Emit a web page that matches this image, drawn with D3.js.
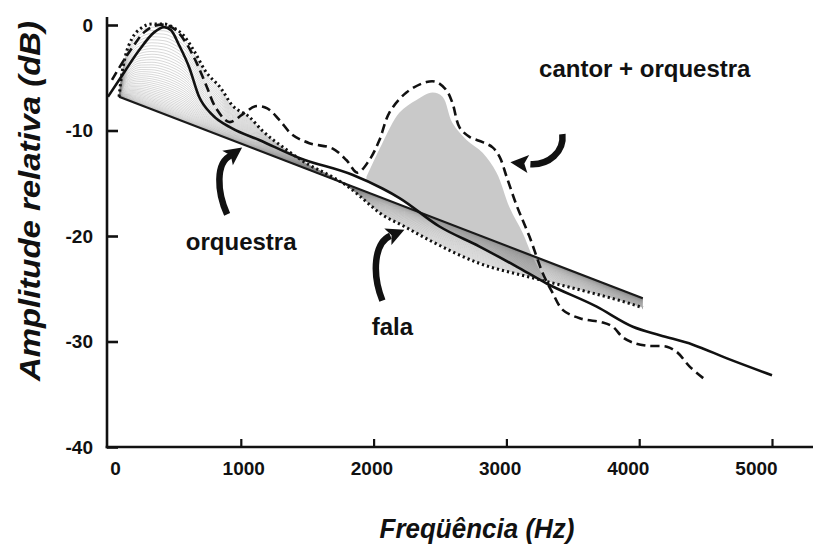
<!DOCTYPE html>
<html>
<head>
<meta charset="utf-8">
<script src="https://cdn.jsdelivr.net/npm/d3@7"></script>
<style>
  html, body { margin: 0; padding: 0; background: #fff; }
  svg { display: block; }
  text { font-family: "Liberation Sans", Arial, sans-serif; fill: #111; }
</style>
</head>
<body>
<svg id="chart" width="813" height="557"></svg>
<script>
// Axis ticks
const xTicks = [0, 1000, 2000, 3000, 4000, 5000];
const yTicks = [0, -10, -20, -30, -40];

// Orchestra spectrum (solid)
const orquestraHz = [0, 121, 234, 347, 422, 475, 535, 611, 686, 784, 935, 1139, 1440, 1840, 2066, 2195, 2496, 2798, 3077, 3303, 3680, 3952, 4155, 4404, 4661, 5000];
const orquestraDb = [-6.8, -4.5, -2.4, -0.7, -0.2, -0.5, -1.9, -4.0, -6.8, -8.5, -9.8, -10.9, -12.6, -14.2, -15.5, -16.4, -19.1, -21.0, -22.9, -24.5, -26.7, -28.6, -29.4, -30.3, -31.6, -33.2];

// Speech spectrum (dotted)
const falaHz = [83, 100, 130, 180, 250, 330, 420, 500, 570, 650, 730, 850, 935, 1063, 1161, 1342, 1493, 1689, 1817, 1931, 2044, 2232, 2421, 2798, 3175, 3552, 3929, 4027];
const falaDb = [-6.8, -5.0, -3.0, -1.3, -0.3, 0.1, 0.1, -0.3, -1.0, -2.5, -4.3, -6.0, -7.6, -8.7, -10.0, -11.8, -13.1, -14.4, -15.4, -16.6, -17.8, -19.1, -20.4, -22.6, -23.9, -25.1, -26.4, -26.8];

// Long-term slope of the orchestral band (straight line)
const slopeHz = [83, 4027];
const slopeDb = [-6.8, -25.9];

// Singer + orchestra (dashed)
const cantorHz = [30, 121, 196, 271, 347, 437, 513, 588, 664, 739, 814, 913, 1011, 1109, 1199, 1290, 1388, 1516, 1689, 1795, 1878, 1968, 2044, 2119, 2247, 2398, 2474, 2549, 2594, 2647, 2722, 2821, 2896, 2949, 3002, 3077, 3175, 3273, 3348, 3424, 3552, 3725, 3801, 3876, 3952, 4057, 4208, 4284, 4382, 4495];
const cantorDb = [-5.2, -3.3, -1.9, -0.7, -0.1, 0, -0.5, -1.7, -3.5, -5.7, -7.9, -9.2, -8.5, -7.7, -7.9, -9.0, -10.4, -11.2, -11.7, -12.8, -14.0, -12.8, -10.9, -8.3, -6.4, -5.4, -5.4, -6.2, -7.4, -9.7, -10.6, -11.1, -11.6, -12.5, -14.4, -17.1, -20.1, -23.5, -25.4, -27.0, -27.8, -28.2, -28.6, -29.6, -30.1, -30.4, -30.5, -31.0, -32.4, -33.6];

// Singer's formant region (grey area, upper edge)
const formanteHz = [1946, 2066, 2195, 2323, 2443, 2519, 2594, 2700, 2821, 2926, 3024, 3122, 3198, 3273];
const formanteDb = [-14.4, -11.2, -8.3, -7.1, -6.4, -6.8, -9.3, -10.9, -12.1, -14.0, -17.3, -19.7, -22.0, -23.7];

// Annotations: label text and anchor (Hz, dB)
const labelText = ["orquestra", "fala", "cantor + orquestra"];
const labelHz = [1003, 2142, 4042];
const labelDb = [-20.6, -28.6, -4.2];
// Arrow tips (Hz, dB)
const arrowTipHz = [1010, 2232, 3030];
const arrowTipDb = [-11.6, -19.4, -13.0];

const svg = d3.select("#chart");
const W = 813, H = 557;

const x = d3.scaleLinear().domain([0, 5000]).range([108, 772]);
const y = d3.scaleLinear().domain([-40, 0]).range([447, 25]);
// tick-label placement along the frequency axis
const xLabel = d3.scaleLinear().domain([0, 5000]).range([115, 756]);

const pts = (hz, db) => hz.map((f, i) => [f, db[i]]);
const line = d3.line().x(d => x(d[0])).y(d => y(d[1]));

// ---- grey formant area (between singer curve and orchestra curve)
const orqInterp = d3.scaleLinear().domain(orquestraHz).range(orquestraDb);
const upper = pts(formanteHz, formanteDb);
const lower = formanteHz.slice().reverse().map(f => [f, orqInterp(f)]);
svg.append("path")
  .attr("d", d3.line().x(d => x(d[0])).y(d => y(d[1])).curve(d3.curveCatmullRom)(upper) +
        "L" + lower.map(d => x(d[0]) + "," + y(d[1])).join("L") + "Z")
  .attr("fill", "#c9c9c9");

// ---- fan of blend lines from the straight slope to the speech curve
const slope = d3.scaleLinear().domain(slopeHz).range(slopeDb);
const N = 44;
const fan = svg.append("g");
for (let k = 1; k < N; k++) {
  const t = Math.pow(k / N, 1.7);
  const blend = falaHz.map((f, i) => [f, slope(f) * (1 - t) + falaDb[i] * t]);
  fan.append("path")
    .attr("d", line.curve(d3.curveMonotoneX)(blend))
    .attr("fill", "none")
    .attr("stroke", "#7a7a7a")
    .attr("stroke-opacity", 0.42)
    .attr("stroke-width", 0.7);
}

// straight slope line
svg.append("path")
  .attr("d", line.curve(d3.curveLinear)(pts(slopeHz, slopeDb)))
  .attr("fill", "none").attr("stroke", "#1a1a1a").attr("stroke-width", 2.2);

// speech (dotted)
svg.append("path")
  .attr("d", line.curve(d3.curveMonotoneX)(pts(falaHz, falaDb)))
  .attr("fill", "none").attr("stroke", "#111").attr("stroke-width", 3)
  .attr("stroke-dasharray", "2.2,3");

// orchestra (solid)
svg.append("path")
  .attr("d", line.curve(d3.curveMonotoneX)(pts(orquestraHz, orquestraDb)))
  .attr("fill", "none").attr("stroke", "#111").attr("stroke-width", 2.6);

// singer + orchestra (dashed)
svg.append("path")
  .attr("d", line.curve(d3.curveCatmullRom)(pts(cantorHz, cantorDb)))
  .attr("fill", "none").attr("stroke", "#111").attr("stroke-width", 2.6)
  .attr("stroke-dasharray", "9,5");

// ---- axes
const gy = svg.append("g").attr("transform", `translate(${x(0) - 1},0)`)
  .call(d3.axisLeft(y).tickValues(yTicks).tickSizeInner(-11).tickSizeOuter(0).tickPadding(14)
    .tickFormat(d => String(d)));
gy.select(".domain").remove();
gy.selectAll(".tick line").attr("stroke", "#111").attr("stroke-width", 2.6);
gy.selectAll(".tick text").attr("font-size", 19).attr("font-weight", "bold").attr("fill", "#111");
svg.append("line")
  .attr("x1", x(0) - 1).attr("x2", x(0) - 1)
  .attr("y1", y(0) - 8).attr("y2", y(-40) + 1.3)
  .attr("stroke", "#111").attr("stroke-width", 2.6);

const gx = svg.append("g").attr("transform", `translate(0,${y(-40)})`)
  .call(d3.axisBottom(x).tickValues(xTicks.slice(1)).tickSizeInner(-8).tickSizeOuter(0).tickFormat(""));
gx.select(".domain").remove();
gx.selectAll(".tick line").attr("stroke", "#111").attr("stroke-width", 2.2);
svg.append("line")
  .attr("x1", x(0) - 2.3).attr("x2", W)
  .attr("y1", y(-40)).attr("y2", y(-40))
  .attr("stroke", "#111").attr("stroke-width", 2.6);

const gxl = svg.append("g").attr("transform", `translate(0,${y(-40)})`)
  .call(d3.axisBottom(xLabel).tickValues(xTicks).tickSize(0).tickPadding(15).tickFormat(d => String(d)));
gxl.select(".domain").remove();
gxl.selectAll(".tick text").attr("font-size", 19).attr("font-weight", "bold").attr("fill", "#111");

// axis titles
svg.append("text")
  .attr("x", 477).attr("y", 538)
  .attr("text-anchor", "middle")
  .attr("font-size", 27).attr("font-weight", "bold").attr("font-style", "italic")
  .attr("textLength", 195).attr("lengthAdjust", "spacingAndGlyphs")
  .text("Freqüência (Hz)");

svg.append("text")
  .attr("transform", "translate(40,201) rotate(-90)")
  .attr("text-anchor", "middle")
  .attr("font-size", 30).attr("font-weight", "bold").attr("font-style", "italic")
  .attr("textLength", 360).attr("lengthAdjust", "spacingAndGlyphs")
  .text("Amplitude relativa (dB)");

// ---- annotation labels
labelText.forEach((t, i) => {
  svg.append("text")
    .attr("x", x(labelHz[i])).attr("y", y(labelDb[i]) + 8)
    .attr("text-anchor", "middle")
    .attr("font-size", 24).attr("font-weight", "bold")
    .text(t);
});

// ---- curved arrows (tail / control offsets in px relative to tip)
const arrowShapes = [
  { tail: [-15, 67], c1: [-25, 45], c2: [-27, 15], base: [-11, 8] },
  { tail: [-22, 71], c1: [-33, 43], c2: [-30, 13], base: [-14, 6] },
  { tail: [52, -28], c1: [54, -10], c2: [38, 3], base: [20, 2] }
];
arrowShapes.forEach((s, i) => {
  const px = x(arrowTipHz[i]), py = y(arrowTipDb[i]);
  const P = (o) => [px + o[0], py + o[1]];
  const T = P(s.tail), C1 = P(s.c1), C2 = P(s.c2), B = P(s.base);
  const path = d3.path();
  path.moveTo(T[0], T[1]);
  path.bezierCurveTo(C1[0], C1[1], C2[0], C2[1], B[0], B[1]);
  svg.append("path").attr("d", path.toString())
    .attr("fill", "none").attr("stroke", "#111").attr("stroke-width", 6.5)
    .attr("stroke-linecap", "butt");
  // arrow head
  const dx = px - B[0], dy = py - B[1];
  const len = Math.hypot(dx, dy);
  const ux = dx / len, uy = dy / len;
  const hl = 18, hw = 9;
  const bx = px - ux * hl, by = py - uy * hl;
  svg.append("path")
    .attr("d", `M${px},${py}L${bx - uy * hw},${by + ux * hw}L${bx + ux * 4},${by + uy * 4}L${bx + uy * hw},${by - ux * hw}Z`)
    .attr("fill", "#111");
});
</script>
</body>
</html>
